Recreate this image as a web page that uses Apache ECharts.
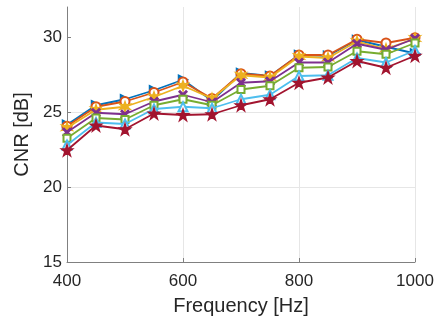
<!DOCTYPE html>
<html>
<head>
<meta charset="utf-8">
<script src="https://cdn.jsdelivr.net/npm/echarts@6/dist/echarts.min.js"></script>
<style>html,body{margin:0;padding:0;background:#fff}#c{width:441px;height:325px}</style>
</head>
<body>
<div id="c"></div>
<script>
const freq = [400,450,500,550,600,650,700,750,800,850,900,950,1000];
const s1 = [24.15,25.45,25.85,26.45,27.15,25.75,27.6,27.4,28.8,28.75,29.8,29.35,28.9];
const s2 = [24.05,25.35,25.7,26.3,27.0,25.9,27.55,27.4,28.8,28.8,29.85,29.6,29.95];
const s3 = [23.95,25.15,25.35,26.0,26.75,25.9,27.45,27.3,28.7,28.6,29.7,29.2,29.9];
const s4 = [23.65,24.95,24.85,25.7,26.15,25.65,26.95,27.05,28.3,28.3,29.55,29.15,29.9];
const s5 = [23.25,24.6,24.5,25.45,25.85,25.45,26.5,26.75,27.95,28.0,29.05,28.85,29.6];
const s6 = [22.8,24.3,24.2,25.2,25.35,25.25,25.85,26.15,27.4,27.45,28.6,28.3,29.1];
const s7 = [22.45,24.1,23.85,24.9,24.8,24.85,25.45,25.85,26.95,27.3,28.4,27.95,28.75];
const yTicks = [15,20,25,30];
const xTicks = [400,600,800,1000];

const colors = ['#0072BD','#D95319','#EDB120','#7E2F8E','#77AC30','#4DBEEE','#A2142F'];
const symbols = [
  'path://M0,0 L10,5 L0,10 Z',
  'emptyCircle',
  'path://M5,0 L6,3.3 L9.3,2.5 L7,5 L9.3,7.5 L6,6.7 L5,10 L4,6.7 L0.7,7.5 L3,5 L0.7,2.5 L4,3.3 Z',
  'path://M0,1.2 L1.2,0 L5,3.8 L8.8,0 L10,1.2 L6.2,5 L10,8.8 L8.8,10 L5,6.2 L1.2,10 L0,8.8 L3.8,5 Z',
  'emptyRect',
  'emptyTriangle',
  'path://M5,0 L6.2,3.6 L10,3.6 L6.9,5.9 L8.1,9.5 L5,7.3 L1.9,9.5 L3.1,5.9 L0,3.6 L3.8,3.6 Z'
];
const sizes = [9,9,10,8,7,9,11];
const data = [s1,s2,s3,s4,s5,s6,s7];

const series = data.map((d,i)=>({
  type:'line',
  data: freq.map((f,j)=>[f,d[j]]),
  symbol: symbols[i],
  symbolSize: sizes[i],
  showAllSymbol: true,
  lineStyle:{color:colors[i], width:1.8},
  itemStyle:{color:colors[i], borderColor:colors[i], borderWidth:1.5},
  emphasis:{disabled:true},
  animation:false,
  z: 2+i
}));

const chart = echarts.init(document.getElementById('c'), null, {renderer:'canvas'});
chart.setOption({
  animation:false,
  grid:{left:67, right:26, top:7, bottom:63, containLabel:false},
  xAxis:{
    type:'value', min:400, max:1000, interval:200,
    name:'Frequency [Hz]', nameLocation:'middle', nameGap:34,
    nameTextStyle:{fontFamily:'Liberation Sans', fontSize:20, color:'#262626'},
    axisLine:{show:true, lineStyle:{color:'#808080', width:1}},
    axisTick:{show:true, inside:true, length:4, lineStyle:{color:'#808080'}},
    axisLabel:{fontFamily:'Liberation Sans', fontSize:17, color:'#262626', margin:11, customValues:xTicks, formatter:v=>String(v)},
    splitLine:{show:true, lineStyle:{color:'#e6e6e6', width:1}}
  },
  yAxis:{
    type:'value', min:15, max:32, interval:5,
    name:'CNR [dB]', nameLocation:'middle', nameGap:32,
    nameTextStyle:{fontFamily:'Liberation Sans', fontSize:20, color:'#262626'},
    axisLine:{show:true, lineStyle:{color:'#808080', width:1}},
    axisTick:{show:true, inside:true, length:4, lineStyle:{color:'#808080'}, customValues:yTicks},
    axisLabel:{fontFamily:'Liberation Sans', fontSize:17, color:'#262626', margin:5, customValues:yTicks, formatter:v=>String(v)},
    splitLine:{show:true, showMaxLine:false, lineStyle:{color:'#e6e6e6', width:1}}
  },
  series
});
</script>
</body>
</html>
